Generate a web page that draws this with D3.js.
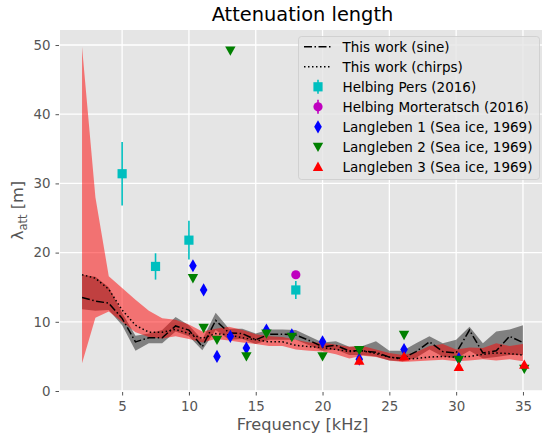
<!DOCTYPE html>
<html><head><meta charset="utf-8">
<script src="https://cdn.jsdelivr.net/npm/d3@7"></script>
<style>body{margin:0;background:#fff}svg{display:block}text{font-family:"DejaVu Sans",sans-serif}</style>
</head><body>
<script>
// ---- data ----
const freq = [2,3,4,5,6,7,8,9,10,11,12,13,14,15,16,17,18,19,20,21,22,23,24,25,26,27,28,29,30,31,32,33,34,35];
const sineVal = [13.5,13.0,12.7,10.5,7.1,7.7,7.7,9.4,8.8,6.4,10.2,8.4,8.3,7.4,8.2,8.2,8.1,7.3,6.4,6.6,5.8,5.8,5.6,4.9,4.7,5.7,7.1,5.7,5.5,8.8,5.5,5.8,7.9,7.0];
const sineLo  = [11.8,11.6,11.7,9.5,5.8,6.9,6.9,8.6,7.9,5.9,8.8,7.4,7.5,6.8,7.4,7.4,7.4,6.6,5.8,6.0,5.2,5.2,5.0,4.4,4.3,4.8,6.0,5.0,4.7,5.8,4.7,4.9,5.2,5.2];
const sineHi  = [16.8,16.5,15.0,11.3,8.0,8.3,8.8,10.7,9.5,7.4,11.3,9.0,9.0,8.3,8.9,8.9,8.8,7.9,7.0,7.2,6.4,6.5,7.2,5.8,5.8,6.9,7.9,6.9,7.4,9.3,6.9,8.6,8.9,9.5];
const chirpVal = [16.8,16.3,14.7,11.7,9.5,8.5,8.5,8.9,8.3,7.6,8.3,8.1,7.7,7.4,7.1,7.1,6.6,6.4,6.3,6.0,5.7,5.8,5.4,4.9,4.6,4.7,4.9,5.0,4.9,5.0,5.3,5.5,5.4,5.2];
const chirpLo  = [4.0,10.6,11.5,10.0,8.5,7.8,7.6,7.9,7.5,7.0,7.5,7.3,7.0,6.8,6.5,6.5,6.0,5.8,5.7,5.3,4.7,5.1,4.9,4.4,4.2,4.3,4.4,4.5,4.3,4.4,4.6,4.4,4.6,4.3];
const chirpHi  = [49.7,28.0,16.6,14.9,13.2,11.6,10.5,10.3,9.6,8.6,9.0,9.3,8.8,8.2,7.9,7.8,7.4,7.0,7.0,6.7,6.4,6.5,6.0,5.5,5.2,5.6,6.5,6.8,6.0,6.3,6.2,6.9,6.5,6.8];

const persFreq = [5,7.5,10,18];
const persVal  = [31.4,18.0,21.8,14.6];
const persErr  = [4.6,1.9,2.8,1.3];
const mortFreq = [18];
const mortVal  = [16.8];
const mortErr  = [0.4];
const lang1Freq = [10.3,11.1,12.1,13.1,14.3,15.8,17.7,20.0,22.75,26.1,30.2];
const lang1Val  = [18.1,14.6,5.0,7.9,6.2,8.8,8.1,7.1,4.6,6.0,4.7];
const lang2Freq = [10.3,11.1,12.1,13.1,14.3,15.8,17.7,20.0,22.75,26.1,30.2,35.1];
const lang2Val  = [16.3,9.1,7.4,49.2,5.0,8.3,7.8,5.0,5.9,8.1,4.5,3.2];
const lang3Freq = [22.75,26.1,30.2,35.1];
const lang3Val  = [4.4,5.0,3.5,3.8];

const xTicks = [5,10,15,20,25,30,35];
const yTicks = [0,10,20,30,40,50];
const legendLabels = ["This work (sine)","This work (chirps)","Helbing Pers (2016)","Helbing Morteratsch (2016)","Langleben 1 (Sea ice, 1969)","Langleben 2 (Sea ice, 1969)","Langleben 3 (Sea ice, 1969)"];

// ---- layout ----
const W=542,H=439, L=60,R=545,T=30,B=391;
const svg=d3.select("body").append("svg").attr("width",W).attr("height",H);
const x=d3.scaleLinear().domain([0.35,36.65]).range([L,R]);
const y=d3.scaleLinear().domain([0,52.17]).range([B,T]);

svg.append("defs").append("clipPath").attr("id","clip").append("rect").attr("x",L).attr("y",T).attr("width",R-L).attr("height",B-T);
svg.append("rect").attr("x",L).attr("y",T).attr("width",R-L).attr("height",B-T).attr("fill","#e5e5e5");

const grid=svg.append("g");
xTicks.forEach(t=>grid.append("line").attr("x1",x(t)).attr("x2",x(t)).attr("y1",T).attr("y2",B).attr("stroke","#fff").attr("stroke-width",1.3));
yTicks.forEach(t=>grid.append("line").attr("x1",L).attr("x2",R).attr("y1",y(t)).attr("y2",y(t)).attr("stroke","#fff").attr("stroke-width",1.3));

// axes
const xAxis=d3.axisBottom(x).tickValues(xTicks).tickSize(4.5).tickPadding(6);
const gx=svg.append("g").attr("transform",`translate(0,${B})`).call(xAxis);
gx.select(".domain").remove();
gx.selectAll("line").attr("stroke","#555").attr("stroke-width",1).attr("y1",1);
gx.selectAll("text").attr("fill","#555").attr("font-size",13.4).attr("font-family","DejaVu Sans");
const yAxis=d3.axisLeft(y).tickValues(yTicks).tickSize(4.5).tickPadding(5);
const gy=svg.append("g").attr("transform",`translate(${L},0)`).call(yAxis);
gy.select(".domain").remove();
gy.selectAll("line").attr("stroke","#555").attr("stroke-width",1).attr("x1",-1);
gy.selectAll("text").attr("fill","#555").attr("font-size",13.4).attr("font-family","DejaVu Sans");

const plot=svg.append("g").attr("clip-path","url(#clip)");
const idx=freq.map((f,i)=>i);
const area=(lo,hi)=>d3.area().x(i=>x(freq[i])).y0(i=>y(lo[i])).y1(i=>y(hi[i]));
plot.append("path").attr("d",area(sineLo,sineHi)(idx)).attr("fill","#000").attr("fill-opacity",0.44);
plot.append("path").attr("d",area(chirpLo,chirpHi)(idx)).attr("fill","#ff0000").attr("fill-opacity",0.5);
const line=v=>d3.line().x(i=>x(freq[i])).y(i=>y(v[i]));
plot.append("path").attr("d",line(sineVal)(idx)).attr("fill","none").attr("stroke","#000").attr("stroke-width",1.5).attr("stroke-dasharray","8,2.5,1.5,2.5");
plot.append("path").attr("d",line(chirpVal)(idx)).attr("fill","none").attr("stroke","#000").attr("stroke-width",1.5).attr("stroke-dasharray","1.5,2.5");

// symbols
function sym(g,type,cx,cy,color){
  let d;
  if(type==="s"){const s=4.6;d=`M${cx-s},${cy-s}H${cx+s}V${cy+s}H${cx-s}Z`;}
  else if(type==="d"){const w=3.8,h=6.6;d=`M${cx},${cy-h}L${cx+w},${cy}L${cx},${cy+h}L${cx-w},${cy}Z`;}
  else if(type==="v"){const w=5.2,h=5.2;d=`M${cx-w},${cy-h*0.8}L${cx+w},${cy-h*0.8}L${cx},${cy+h*1.0}Z`;}
  else if(type==="^"){const w=5.2,h=5.2;d=`M${cx-w},${cy+h*0.8}L${cx+w},${cy+h*0.8}L${cx},${cy-h*1.0}Z`;}
  if(type==="o"){g.append("circle").attr("cx",cx).attr("cy",cy).attr("r",4.6).attr("fill",color);return;}
  g.append("path").attr("d",d).attr("fill",color);
}
const mk=svg.append("g").attr("clip-path","url(#clip)");
persFreq.forEach((f,i)=>{
  mk.append("line").attr("x1",x(f)).attr("x2",x(f)).attr("y1",y(persVal[i]-persErr[i])).attr("y2",y(persVal[i]+persErr[i])).attr("stroke","#00bfbf").attr("stroke-width",1.6);
  sym(mk,"s",x(f),y(persVal[i]),"#00bfbf");
});
mortFreq.forEach((f,i)=>{
  mk.append("line").attr("x1",x(f)).attr("x2",x(f)).attr("y1",y(mortVal[i]-mortErr[i])).attr("y2",y(mortVal[i]+mortErr[i])).attr("stroke","#bf00bf").attr("stroke-width",1.6);
  sym(mk,"o",x(f),y(mortVal[i]),"#bf00bf");
});
lang1Freq.forEach((f,i)=>sym(mk,"d",x(f),y(lang1Val[i]),"#0000ff"));
lang2Freq.forEach((f,i)=>sym(mk,"v",x(f),y(lang2Val[i]),"#008000"));
lang3Freq.forEach((f,i)=>sym(mk,"^",x(f),y(lang3Val[i]),"#ff0000"));

// legend
const lg=svg.append("g");
lg.append("rect").attr("x",298.5).attr("y",36.5).attr("width",241).attr("height",143).attr("rx",3)
  .attr("fill","#e5e5e5").attr("fill-opacity",0.8).attr("stroke","#cccccc").attr("stroke-opacity",0.8);
legendLabels.forEach((t,i)=>{
  const cy=46.8+i*20, hx=318;
  if(i===0) lg.append("line").attr("x1",304).attr("x2",331).attr("y1",cy).attr("y2",cy).attr("stroke","#000").attr("stroke-width",1.5).attr("stroke-dasharray","8,2.5,1.5,2.5");
  if(i===1) lg.append("line").attr("x1",304).attr("x2",331).attr("y1",cy).attr("y2",cy).attr("stroke","#000").attr("stroke-width",1.5).attr("stroke-dasharray","1.5,2.5");
  if(i===2){lg.append("line").attr("x1",hx).attr("x2",hx).attr("y1",cy-7).attr("y2",cy+7).attr("stroke","#00bfbf").attr("stroke-width",1.6);sym(lg,"s",hx,cy,"#00bfbf");}
  if(i===3){lg.append("line").attr("x1",hx).attr("x2",hx).attr("y1",cy-7).attr("y2",cy+7).attr("stroke","#bf00bf").attr("stroke-width",1.6);sym(lg,"o",hx,cy,"#bf00bf");}
  if(i===4) sym(lg,"d",hx,cy,"#0000ff");
  if(i===5) sym(lg,"v",hx,cy,"#008000");
  if(i===6) sym(lg,"^",hx,cy,"#ff0000");
  lg.append("text").attr("x",342.5).attr("y",cy+4.8).attr("font-size",13.5).attr("fill","#000").text(t);
});

// title and labels
svg.append("text").attr("x",(L+R)/2).attr("y",21).attr("text-anchor","middle").attr("font-size",19.4).attr("fill","#000").text("Attenuation length");
svg.append("text").attr("x",(L+R)/2).attr("y",430).attr("text-anchor","middle").attr("font-size",16.2).attr("fill","#555").text("Frequency [kHz]");
const yl=svg.append("text").attr("transform",`translate(23,${(T+B)/2}) rotate(-90)`).attr("text-anchor","middle").attr("font-size",16.2).attr("fill","#555");
yl.append("tspan").text("λ");
yl.append("tspan").attr("font-size",11.5).attr("dy",4).text("att");
yl.append("tspan").attr("dy",-4).text(" [m]");
</script>
</body></html>
